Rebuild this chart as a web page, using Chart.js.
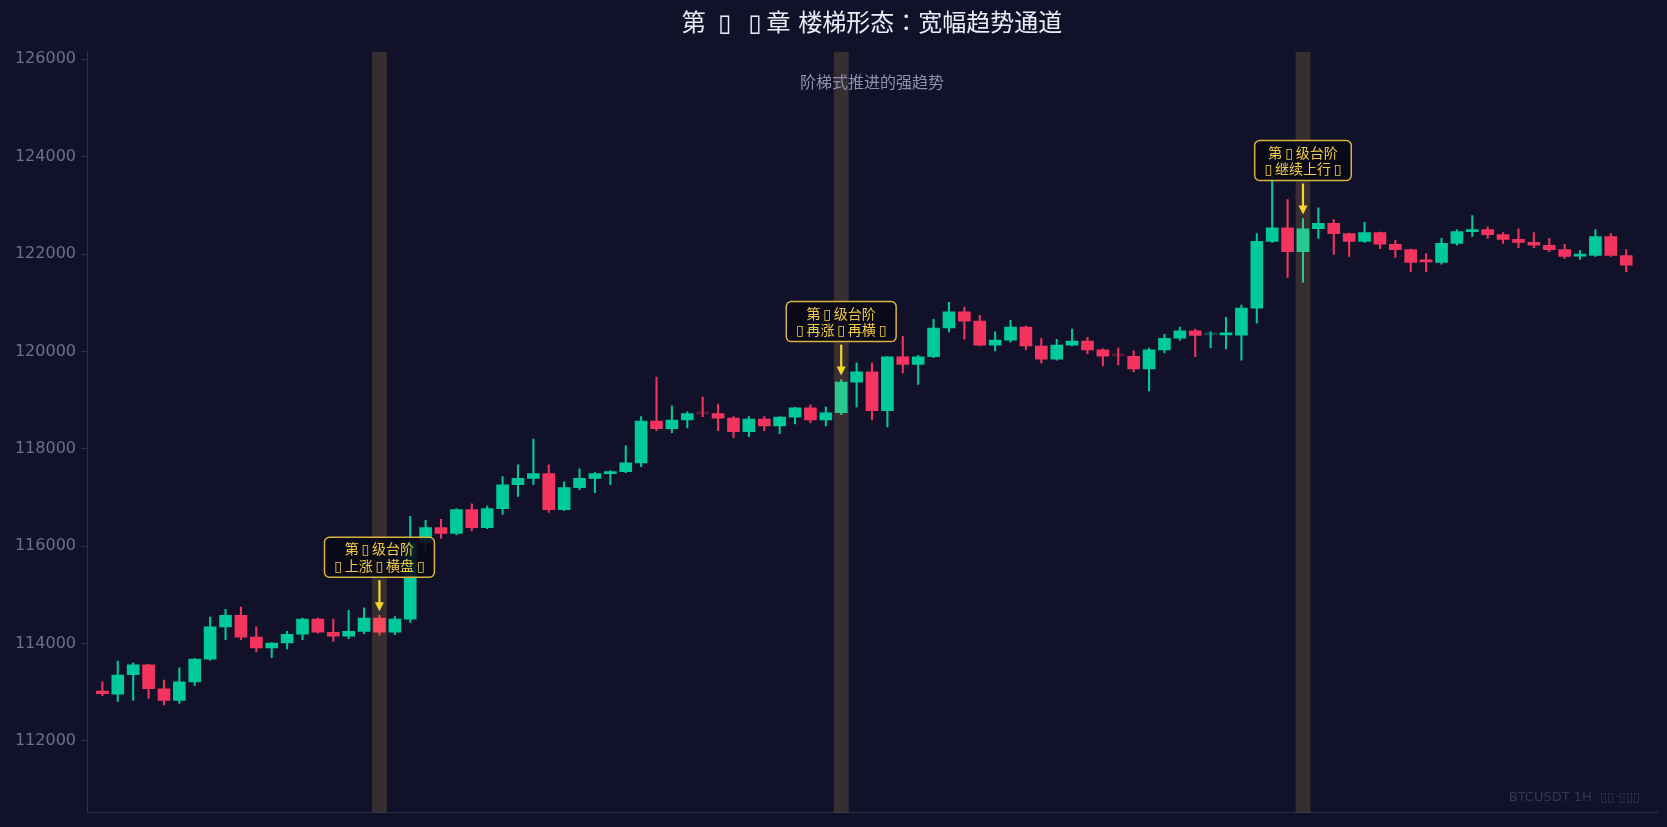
<!DOCTYPE html>
<html>
<head>
<meta charset="utf-8">
<script src="https://cdn.jsdelivr.net/npm/chart.js@4.4.1/dist/chart.umd.min.js"></script>
<style>
  html, body { margin: 0; padding: 0; background: #11122a; }
  #wrap { width: 1667px; height: 827px; }
</style>
</head>
<body>
<div id="wrap"><canvas id="kline"></canvas></div>
<script>
// hourly candles
const opens  = [113020,112960,113360,113560,113070,112830,113210,113680,114340,114580,
                114130,113910,114010,114190,114500,114230,114150,114250,114520,114230,
                114500,116080,116380,116260,116750,116380,116770,117260,117390,117490,
                116750,117200,117390,117490,117530,117710,118570,118410,118590,118722,
                118720,118630,118350,118610,118470,118650,118840,118590,118740,119370,
                119580,118780,119890,119730,119890,120480,120810,120620,120130,120230,
                120500,120110,119840,120130,120210,120030,119912,119900,119640,120030,
                120270,120420,120338,120340,120335,120890,122260,122540,122050,122520,
                122630,122420,122260,122440,122200,122090,121855,121830,122220,122460,
                122500,122400,122300,122240,122180,122090,121957,121970,122360,121970];
const highs  = [113210,113640,113600,113570,113250,113500,113690,114540,114700,114750,
                114340,114020,114250,114520,114520,114500,114680,114730,114580,114550,
                116610,116530,116550,116770,116870,116820,117430,117670,118200,117670,
                117320,117590,117510,117550,118060,118660,119470,118880,118760,119060,
                118920,118660,118660,118660,118660,118850,118900,118860,119420,119760,
                119760,119900,120310,119920,120660,121010,120910,120740,120400,120640,
                120520,120270,120250,120460,120290,120050,120070,120010,120070,120350,
                120500,120460,120400,120700,120950,122420,123600,123120,122730,122950,
                122710,122430,122650,122450,122280,122100,122010,122320,122500,122790,
                122560,122440,122520,122440,122320,122200,122070,122500,122420,122090];
const lows   = [112930,112810,112830,112870,112740,112770,113140,113650,114080,114080,
                113830,113710,113890,114080,114210,114040,114100,114200,114170,114180,
                114430,115900,116160,116230,116310,116360,116650,117020,117260,116690,
                116730,117160,117100,117260,117510,117630,118370,118330,118430,118660,
                118370,118230,118250,118370,118310,118510,118530,118470,118700,118860,
                118590,118450,119560,119320,119870,120400,120250,120110,120010,120190,
                120030,119760,119820,120110,119950,119700,119720,119580,119190,119970,
                120230,119890,120070,120050,119820,120580,122240,121520,121420,122320,
                121990,121950,122240,122110,121930,121640,121640,121790,122180,122360,
                122320,122220,122130,122130,122050,121910,121890,121950,121950,121640];
const closes = [112970,113350,113560,113070,112830,113210,113680,114340,114580,114130,
                113910,114010,114190,114500,114230,114150,114250,114520,114230,114500,
                116080,116380,116260,116750,116380,116770,117260,117390,117490,116750,
                117200,117390,117490,117530,117710,118570,118410,118590,118720,118718,
                118630,118350,118610,118470,118650,118840,118590,118740,119370,119580,
                118780,119890,119730,119890,120480,120810,120620,120130,120230,120500,
                120110,119840,120130,120210,120030,119900,119908,119640,120030,120270,
                120420,120330,120342,120355,120890,122260,122540,122050,122520,122630,
                122420,122260,122440,122200,122090,121830,121840,122220,122460,122500,
                122400,122300,122240,122180,122090,121950,121971,122360,121970,121770];

const yTicks = [112000, 114000, 116000, 118000, 120000, 122000, 124000, 126000];

// the three "steps"
const stepIdx   = [18, 48, 78];
const stepLine1 = ["第\u2009▯\u2009级台阶", "第\u2009▯\u2009级台阶", "第\u2009▯\u2009级台阶"];
const stepLine2 = ["\u2009▯\u2009上涨\u2009▯\u2009横盘\u2009▯\u2009",
                   "\u2009▯\u2009再涨\u2009▯\u2009再横\u2009▯\u2009",
                   "\u2009▯\u2009继续上行\u2009▯\u2009"];

const titleText = "第 \u2009▯\u2009 \u2009▯\u2009章 楼梯形态：宽幅趋势通道";
const subText = "阶梯式推进的强趋势";
const markText = "BTCUSDT 1H  ▯▯·▯▯▯";

const BG = "#11122a";
const UP = "#00c99b";
const DOWN = "#f3345f";
const AXIS = "#2c2e48";
const FONT = "'DejaVu Sans', 'Noto Sans CJK JP', sans-serif";

function isUp(i) { return closes[i] >= opens[i]; }
function bodyColor(ctx) {
  const i = ctx.dataIndex;
  const d = closes[i] - opens[i];
  if (Math.abs(d) < 8) return d >= 0 ? "rgba(0,201,155,0.28)" : "rgba(243,52,95,0.28)";
  return d >= 0 ? UP : DOWN;
}

const overlay = {
  id: "overlay",
  beforeDraw(chart) {
    const c = chart.ctx;
    c.save();
    c.fillStyle = BG;
    c.fillRect(0, 0, chart.width, chart.height);
    c.restore();
  },
  afterDatasetsDraw(chart) {
    const { ctx, chartArea: a, scales: { x, y } } = chart;
    ctx.save();

    // highlight columns
    ctx.fillStyle = "rgba(255,200,80,0.155)";
    stepIdx.forEach(i => {
      const l = x.getPixelForValue(i - 0.48), r = x.getPixelForValue(i + 0.48);
      ctx.fillRect(l, a.top, r - l, a.bottom - a.top);
    });

    ctx.textAlign = "center";
    ctx.textBaseline = "middle";
    ctx.font = "16px " + FONT;
    ctx.fillStyle = "#8e90ad";
    ctx.fillText(subText, (a.left + a.right) / 2, a.top + 32);

    ctx.textAlign = "right";
    ctx.font = "13px " + FONT;
    ctx.fillStyle = "#35374f";
    ctx.fillText(markText, a.right - 17, a.bottom - 15);

    // step labels
    ctx.textAlign = "center";
    ctx.font = "14px " + FONT;
    stepIdx.forEach((i, k) => {
      const px = x.getPixelForValue(i);
      const py = y.getPixelForValue(highs[i]);
      const w = Math.max(ctx.measureText(stepLine1[k]).width, ctx.measureText(stepLine2[k]).width) + 14;
      const h = 40;
      const bottom = py - 38, top = bottom - h;
      ctx.beginPath();
      ctx.roundRect(px - w / 2, top, w, h, 5);
      ctx.fillStyle = "rgba(8,8,20,0.88)";
      ctx.fill();
      ctx.lineWidth = 1.5;
      ctx.strokeStyle = "#d8b440";
      ctx.stroke();
      ctx.fillStyle = "#f0cb48";
      ctx.fillText(stepLine1[k], px, top + 13.5);
      ctx.fillText(stepLine2[k], px, top + 30);

      const tip = py - 4;
      ctx.strokeStyle = "#f6d42e";
      ctx.fillStyle = "#f6d42e";
      ctx.lineWidth = 2.2;
      ctx.beginPath();
      ctx.moveTo(px, bottom + 3);
      ctx.lineTo(px, tip - 6);
      ctx.stroke();
      ctx.beginPath();
      ctx.moveTo(px - 4.5, tip - 9);
      ctx.lineTo(px + 4.5, tip - 9);
      ctx.lineTo(px, tip);
      ctx.closePath();
      ctx.fill();
    });
    ctx.restore();
  }
};

new Chart(document.getElementById("kline"), {
  type: "bar",
  data: {
    datasets: [
      {
        label: "body",
        order: 1,
        data: opens.map((o, i) => ({ x: i, y: [Math.min(o, closes[i]), Math.max(o, closes[i])] })),
        backgroundColor: bodyColor,
        barThickness: 12,
        minBarLength: 2,
        grouped: false
      },
      {
        label: "wick",
        order: 2,
        data: lows.map((l, i) => ({ x: i, y: [l, highs[i]] })),
        backgroundColor: ctx => (isUp(ctx.dataIndex) ? UP : DOWN),
        barThickness: 1.4,
        grouped: false
      }
    ]
  },
  options: {
    responsive: true,
    maintainAspectRatio: false,
    animation: false,
    layout: { padding: { left: 0, right: 10, top: 0, bottom: 12 } },
    plugins: {
      legend: { display: false },
      tooltip: { enabled: false },
      title: {
        display: true,
        text: titleText,
        color: "#ececf4",
        fullSize: false,
        font: { family: FONT, size: 24, weight: "normal" },
        padding: { top: 10, bottom: 13 }
      }
    },
    scales: {
      x: {
        type: "linear",
        offset: false,
        min: -1,
        max: 101,
        afterFit: s => { s.height = 0; },
        ticks: { display: false },
        grid: { display: false, drawTicks: false },
        border: { display: true, color: AXIS }
      },
      y: {
        min: 110530,
        max: 126154,
        afterBuildTicks: s => { s.ticks = yTicks.map(v => ({ value: v })); },
        afterFit: s => { s.width = 87; },
        ticks: {
          color: "#6c6f8f",
          font: { family: "'DejaVu Sans', sans-serif", size: 16 },
          padding: 5,
          callback: v => String(v)
        },
        grid: { drawOnChartArea: false, drawTicks: true, tickLength: 6, color: AXIS },
        border: { color: AXIS }
      }
    }
  },
  plugins: [overlay]
});
</script>
</body>
</html>
